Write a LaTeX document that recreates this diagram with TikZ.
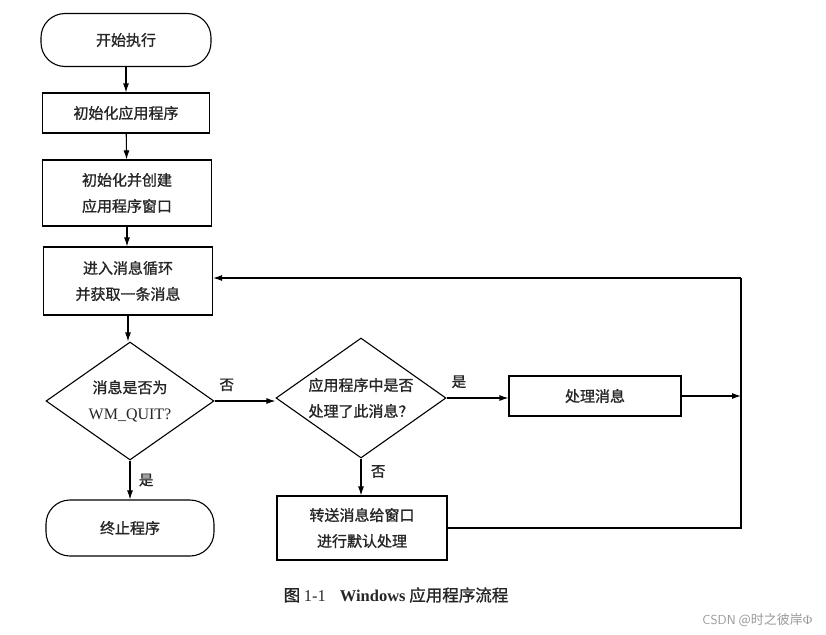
\documentclass[tikz,border=0pt]{standalone}
\usepackage{fontspec}
\setmainfont{Liberation Serif}
\newfontfamily\cjk{Noto Sans CJK SC}[FakeBold=1.2]
\newfontfamily\cjklight{Noto Sans CJK SC}
\usetikzlibrary{shapes.geometric,arrows.meta}
\tikzset{
  base/.style={draw=black, line width=1.1pt, inner sep=0pt, align=center,
     font=\cjk\fontsize{15}{26}\selectfont, text=black!85},
  procbox/.style={base, rectangle},
  termbox/.style={base, rectangle, rounded corners=24pt},
  decbox/.style={base, diamond, aspect=1.42},
  arr/.style={line width=1.1pt, -{Latex[length=9pt,width=6pt]}},
  ln/.style={line width=1.1pt},
  lbl/.style={font=\cjk\fontsize{14.5}{16}\selectfont, text=black!85}
}
\begin{document}
\begin{tikzpicture}[x=1pt,y=-1pt]
\useasboundingbox (0,0) rectangle (826,634);
\node[termbox, minimum width=170pt, minimum height=53pt] (start) at (126,40) {开始执行};
\node[procbox, minimum width=167pt, minimum height=40pt] (init) at (126,113) {初始化应用程序};
\node[procbox, minimum width=169pt, minimum height=66pt] (create) at (127,193) {初始化并创建\\应用程序窗口};
\node[procbox, minimum width=169pt, minimum height=68pt] (loop) at (128,281) {进入消息循环\\并获取一条消息};
\node[decbox, minimum width=168pt, minimum height=118pt] (quit) at (130,401) {消息是否为\\{\rmfamily\fontsize{16}{26}\selectfont WM\_QUIT?}};
\node[termbox, minimum width=168pt, minimum height=56pt] (stop) at (130,528) {终止程序};
\node[decbox, minimum width=170pt, minimum height=120pt] (handled) at (361,398) {应用程序中是否\\处理了此消息？};
\node[procbox, minimum width=172pt, minimum height=40pt] (proc) at (595,396) {处理消息};
\node[procbox, minimum width=170pt, minimum height=64pt] (fwd) at (362,528) {转送消息给窗口\\进行默认处理};
\coordinate (rmid) at (741,396);
\coordinate (rtop) at (741,278);

\draw[arr] (start) -- (init);
\draw[arr] (init) -- (create);
\draw[arr] (create) -- (create.south |- loop.north);
\draw[arr] (loop.south) -- (loop.south |- quit.north);
\draw[arr] (quit) -- node[lbl, right=5pt] {是} (stop);
\draw[arr] (quit.east) -- node[lbl, pos=0.2, above=6pt] {否} (quit.east -| handled.west);
\draw[arr] (handled.east) -- node[lbl, pos=0.2, above=6pt] {是} (handled.east -| proc.west);
\draw[arr] (handled.south) -- node[lbl, right=6pt, pos=0.35] {否} (handled.south |- fwd.north);
\draw[arr] (proc.east) -- (rmid);
\draw[ln] (fwd.east) -| (rtop);
\draw[arr] (rtop) -- (rtop -| loop.east);

\node[font=\cjk\fontsize{16.5}{18}\selectfont, text=black!85] (cap) at (396,595) {图 {\rmfamily 1-1}\hspace{14pt}{\rmfamily\bfseries Windows} 应用程序流程};
\node[font=\cjklight\fontsize{13}{14}\selectfont, text=black!40, anchor=east] (wm) at (816,620) {{\sffamily CSDN} @时之彼岸{\rmfamily Φ}};
\end{tikzpicture}
\end{document}
